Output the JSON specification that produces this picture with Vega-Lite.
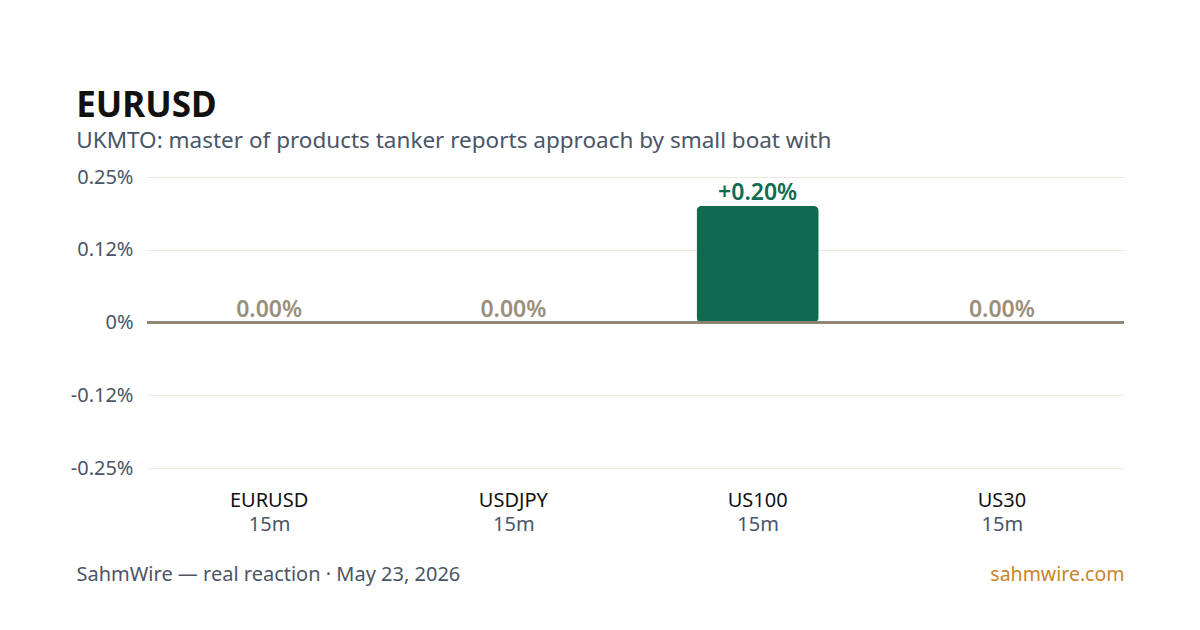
{
  "$schema": "https://vega.github.io/schema/vega-lite/v6.json",
  "width": 1200,
  "height": 630,
  "autosize": {"type": "fit", "contains": "padding"},
  "padding": {"left": 70, "right": 75, "top": 88, "bottom": 46},
  "background": "#ffffff",
  "config": {
    "font": "Noto Sans",
    "view": {"stroke": null}
  },
  "title": {
    "text": "EURUSD",
    "subtitle": "UKMTO: master of products tanker reports approach by small boat with",
    "anchor": "start",
    "frame": "bounds",
    "dx": 6,
    "fontSize": 35,
    "fontWeight": "bold",
    "color": "#111111",
    "subtitleFontSize": 22.5,
    "subtitleColor": "#4a5568",
    "subtitlePadding": 6,
    "offset": 15
  },
  "data": {
    "values": [
      {"sym": "EURUSD", "tf": "15m", "chg": 0.0, "label": "0.00%"},
      {"sym": "USDJPY", "tf": "15m", "chg": 0.0, "label": "0.00%"},
      {"sym": "US100", "tf": "15m", "chg": 0.2, "label": "+0.20%"},
      {"sym": "US30", "tf": "15m", "chg": 0.0, "label": "0.00%"}
    ]
  },
  "resolve": {"scale": {"x": "independent"}, "axis": {"x": "independent"}},
  "layer": [
    {
      "mark": {"type": "bar", "color": "#0f6b50", "cornerRadius": 5},
      "encoding": {
        "x": {
          "field": "sym", "type": "nominal", "sort": null,
          "scale": {"paddingInner": 0.5, "paddingOuter": 0.25},
          "axis": {
            "orient": "bottom",
            "domain": false, "ticks": false, "labelAngle": 0,
            "labelFontSize": 20, "labelColor": "#111111", "labelPadding": 22,
            "title": "sahmwire.com", "titleAnchor": "end", "titleAlign": "right",
            "titleFontSize": 19.5, "titleFontWeight": "normal", "titleColor": "#c8842a",
            "titleBaseline": "alphabetic", "titleY": 112
          }
        },
        "y": {
          "field": "chg", "type": "quantitative",
          "scale": {"domain": [-0.25, 0.25], "nice": false, "zero": false},
          "axis": {
            "values": [-0.25, -0.125, 0, 0.125, 0.25],
            "labelExpr": "datum.value == 0 ? '0%' : datum.value > 0.2 ? '0.25%' : datum.value > 0 ? '0.12%' : datum.value > -0.2 ? '-0.12%' : '-0.25%'",
            "domain": false, "ticks": false, "grid": true,
            "gridColor": "#efe9dd", "gridWidth": 1,
            "labelFontSize": 20, "labelColor": "#4a5568", "labelPadding": 14,
            "title": null
          }
        }
      }
    },
    {
      "mark": {"type": "rule", "color": "#8b8270", "strokeWidth": 2},
      "encoding": {"y": {"datum": 0, "type": "quantitative"}}
    },
    {
      "mark": {"type": "text", "fontSize": 23, "fontWeight": 600, "baseline": "alphabetic", "dy": -6},
      "encoding": {
        "x": {
          "field": "sym", "type": "nominal", "sort": null,
          "scale": {"paddingInner": 0.5, "paddingOuter": 0.25},
          "axis": {
            "orient": "bottom",
            "domain": false, "ticks": false, "labelAngle": 0,
            "labelExpr": "'15m'",
            "labelFontSize": 20, "labelColor": "#4a5568", "labelPadding": 46,
            "title": "SahmWire — real reaction · May 23, 2026",
            "titleAnchor": "start", "titleAlign": "left", "titleX": -71,
            "titleFontSize": 20, "titleFontWeight": "normal", "titleColor": "#4a5568",
            "titleBaseline": "alphabetic", "titleY": 112
          }
        },
        "y": {"field": "chg", "type": "quantitative"},
        "text": {"field": "label"},
        "color": {
          "condition": {"test": "datum.chg > 0", "value": "#0f6b50"},
          "value": "#9a8f7a"
        }
      }
    }
  ]
}
